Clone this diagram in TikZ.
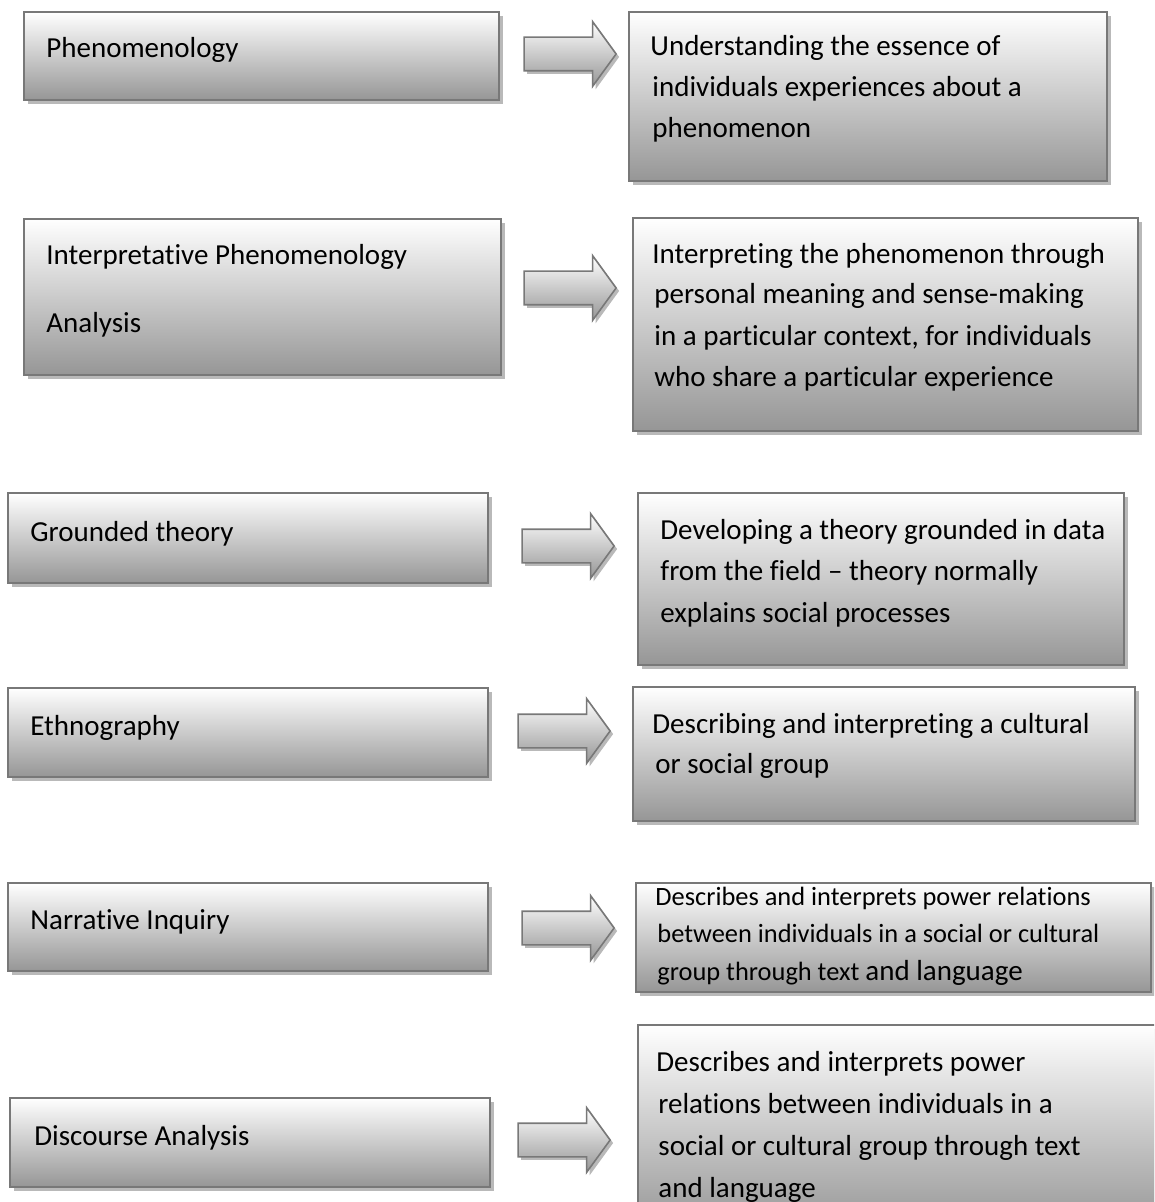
\documentclass[tikz,border=0pt]{standalone}
\usepackage{fontspec}
\setmainfont[Ligatures={NoCommon}]{Carlito}
\usetikzlibrary{shapes.arrows,shadows,fit}
\definecolor{bordergray}{RGB}{120,120,120}
\definecolor{shadegray}{RGB}{150,150,150}
\definecolor{shadowgray}{RGB}{185,185,185}
\tikzset{
  box/.style={draw=bordergray, line width=0.8pt, top color=white, bottom color=shadegray,
    inner sep=0pt, drop shadow={shadow xshift=2pt, shadow yshift=-2pt, fill=shadowgray, opacity=1}},
  blockarrow/.style={single arrow, draw=bordergray, line width=0.8pt, top color=white, bottom color=shadegray,
    inner xsep=0pt, inner ysep=8pt, minimum height=46pt, single arrow head extend=7.75pt,
    single arrow tip angle=108, drop shadow={shadow xshift=1.5pt, shadow yshift=-1.5pt, fill=shadowgray, opacity=1}},
  txt/.style={anchor=base west, inner sep=0pt, font=\fontsize{14.5}{17}\selectfont},
  smalltxt/.style={anchor=base west, inner sep=0pt, font=\fontsize{13.2}{15}\selectfont}
}
\begin{document}
\begin{tikzpicture}[x=0.5pt,y=-0.5pt]
\useasboundingbox (0,0) rectangle (1154,1202);
\clip (0,0) rectangle (1154,1202);
% left boxes
\node[box, fit={(24,12) (499,100)}] (L1) {};
\node[box, fit={(24,219) (501,375)}] (L2) {};
\node[box, fit={(8,493) (488,583)}] (L3) {};
\node[box, fit={(8,688) (488,777)}] (L4) {};
\node[box, fit={(8,883) (488,971)}] (L5) {};
\node[box, fit={(10,1098) (490,1187)}] (L6) {};
% right boxes
\node[box, fit={(629,12) (1107,181)}] (R1) {};
\node[box, fit={(633,218) (1138,431)}] (R2) {};
\node[box, fit={(638,493) (1124,665)}] (R3) {};
\node[box, fit={(633,687) (1135,821)}] (R4) {};
\node[box, fit={(636,883) (1151,992)}] (R5) {};
\node[box, fit={(638,1025) (1170,1230)}] (R6) {};
% arrows
\node[blockarrow] (A1) at (564,54) {};
\node[blockarrow] (A2) at (564,288) {};
\node[blockarrow] (A3) at (562,546) {};
\node[blockarrow] (A4) at (558,731) {};
\node[blockarrow] (A5) at (562,928) {};
\node[blockarrow] (A6) at (558,1140) {};
% left texts
\node[txt] (l1) at (46,58) {Phenomenology};
\node[txt] (l2a) at (46,265) {Interpretative Phenomenology};
\node[txt] (l2b) at (46,333) {Analysis};
\node[txt] (l3) at (30,541) {Grounded theory};
\node[txt] (l4) at (30,735) {Ethnography};
\node[txt] (l5) at (30,929) {Narrative Inquiry};
\node[txt] (l6) at (34,1145) {Discourse Analysis};
% right texts
\node[txt] (r1a) at (650,56) {Understanding the essence of};
\node[txt] (r1b) at (652,97) {individuals experiences about a};
\node[txt] (r1c) at (652,138) {phenomenon};
\node[txt] (r2a) at (652,264) {Interpreting the phenomenon through};
\node[txt] (r2b) at (654,304) {personal meaning and sense-making};
\node[txt] (r2c) at (654,346) {in a particular context, for individuals};
\node[txt] (r2d) at (654,387) {who share a particular experience};
\node[txt] (r3a) at (660,539) {Developing a theory grounded in data};
\node[txt] (r3b) at (660,580) {from the field -- theory normally};
\node[txt] (r3c) at (660,622) {explains social processes};
\node[txt] (r4a) at (652,733) {Describing and interpreting a cultural};
\node[txt] (r4b) at (655,773) {or social group};
\node[smalltxt] (r5a) at (655,905) {Describes and interprets power relations};
\node[smalltxt] (r5b) at (657,942) {between individuals in a social or cultural};
\node[smalltxt] (r5c) at (657,980) {group through text \fontsize{14.5}{17}\selectfont and language};
\node[txt] (r6a) at (656,1071) {Describes and interprets power};
\node[txt] (r6b) at (658,1113) {relations between individuals in a};
\node[txt] (r6c) at (658,1155) {social or cultural group through text};
\node[txt] (r6d) at (658,1197) {and language};
\end{tikzpicture}
\end{document}
